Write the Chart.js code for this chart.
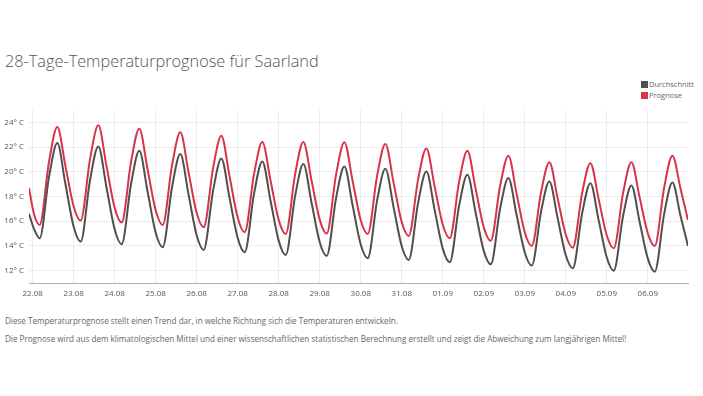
<!DOCTYPE html>
<html>
<head>
<meta charset="utf-8">
<script src="https://cdn.jsdelivr.net/npm/chart.js@4/dist/chart.umd.min.js"></script>
<style>
  body { margin: 0; background: #fff; font-family: "Open Sans", sans-serif; }
  #wrap { position: relative; width: 703px; height: 396px; }
  #title { position: absolute; left: 5px; top: 50px; font-size: 16.3px; font-weight: 300; color: #555; }
  #legend { position: absolute; left: 641px; top: 79px; font-size: 7.5px; color: #666; line-height: 11px; }
  #legend span.sw { display: inline-block; width: 7px; height: 7px; margin-right: 1px; vertical-align: -1px; }
  #box { position: absolute; left: 0; top: 100px; width: 703px; height: 205px; }
  .note { position: absolute; left: 5px; font-size: 8.1px; color: #666; }
</style>
</head>
<body>
<div id="wrap">
  <div id="title">28-Tage-Temperaturprognose für Saarland</div>
  <div id="legend"></div>
  <div id="box"><canvas id="chart"></canvas></div>
  <div class="note" style="top:315px">Diese Temperaturprognose stellt einen Trend dar, in welche Richtung sich die Temperaturen entwickeln.</div>
  <div class="note" style="top:333px">Die Prognose wird aus dem klimatologischen Mittel und einer wissenschaftlichen statistischen Berechnung erstellt und zeigt die Abweichung zum langjährigen Mittel!</div>
</div>
<script>
// day labels (one per gridline, day 0 = 22.08)
var days = ["22.08","23.08","24.08","25.08","26.08","27.08","28.08","29.08","30.08","31.08","01.09","02.09","03.09","04.09","05.09","06.09"];

// time in days since 22.08 00:00 (per day: min, rising, max, falling, midnight)
var times = [-0.09, 0.03,
  0.17, 0.4, 0.6, 0.8, 1.0,
  1.17, 1.4, 1.6, 1.8, 2.0,
  2.17, 2.4, 2.6, 2.8, 3.0,
  3.17, 3.4, 3.6, 3.8, 4.0,
  4.17, 4.4, 4.6, 4.8, 5.0,
  5.17, 5.4, 5.6, 5.8, 6.0,
  6.17, 6.4, 6.6, 6.8, 7.0,
  7.17, 7.4, 7.6, 7.8, 8.0,
  8.17, 8.4, 8.6, 8.8, 9.0,
  9.17, 9.4, 9.6, 9.8, 10.0,
  10.17, 10.4, 10.6, 10.8, 11.0,
  11.17, 11.4, 11.6, 11.8, 12.0,
  12.17, 12.4, 12.6, 12.8, 13.0,
  13.17, 13.4, 13.6, 13.8, 14.0,
  14.17, 14.4, 14.6, 14.8, 15.0,
  15.17, 15.4, 15.6, 15.8, 15.98];

var durchschnitt = [16.6, 15.4,
  14.62, 19.63, 22.32, 18.97, 15.55,
  14.35, 19.36, 22.05, 18.73, 15.33,
  14.14, 19.05, 21.70, 18.42, 15.06,
  13.89, 18.79, 21.43, 18.17, 14.84,
  13.68, 18.49, 21.08, 17.89, 14.63,
  13.49, 18.27, 20.84, 17.66, 14.41,
  13.27, 18.05, 20.62, 17.50, 14.30,
  13.19, 17.90, 20.43, 17.31, 14.11,
  13.00, 17.71, 20.24, 17.14, 13.97,
  12.86, 17.52, 20.03, 16.94, 13.78,
  12.68, 17.28, 19.76, 16.71, 13.60,
  12.51, 17.05, 19.49, 16.52, 13.47,
  12.41, 16.84, 19.22, 16.27, 13.24,
  12.19, 16.67, 19.08, 16.11, 13.06,
  12.00, 16.48, 18.89, 15.96, 12.97,
  11.92, 16.61, 19.14, 16.40, 14.00];

var prognose = [18.7, 16.6,
  15.70, 20.85, 23.62, 20.44, 17.19,
  16.05, 21.06, 23.76, 20.46, 17.08,
  15.90, 20.83, 23.49, 20.22, 16.87,
  15.70, 20.57, 23.19, 19.96, 16.66,
  15.51, 20.33, 22.92, 19.64, 16.28,
  15.11, 19.86, 22.41, 19.29, 16.09,
  14.97, 19.81, 22.41, 19.30, 16.11,
  15.00, 19.81, 22.40, 19.28, 16.08,
  14.97, 19.70, 22.24, 19.12, 15.92,
  14.81, 19.41, 21.89, 18.84, 15.71,
  14.62, 19.22, 21.70, 18.64, 15.50,
  14.41, 18.89, 21.30, 18.23, 15.09,
  14.00, 18.41, 20.78, 17.87, 14.90,
  13.86, 18.31, 20.70, 17.81, 14.84,
  13.81, 18.34, 20.78, 17.93, 15.02,
  14.00, 18.75, 21.30, 18.60, 16.10];

var yTicks = [12, 14, 16, 18, 20, 22, 24];

function pts(vals) {
  return times.map(function(t, i) { return { x: t, y: vals[i] }; });
}

var series = [
  { label: "Durchschnitt", data: pts(durchschnitt), color: "#4f4f4f" },
  { label: "Prognose", data: pts(prognose), color: "#d9334b" }
];

// html legend
var lg = document.getElementById("legend");
series.forEach(function(s) {
  lg.innerHTML += '<div><span class="sw" style="background:' + s.color + '"></span>' + s.label + '</div>';
});

new Chart(document.getElementById("chart"), {
  type: "line",
  data: {
    datasets: series.map(function(s) {
      return {
        label: s.label,
        data: s.data,
        borderColor: s.color,
        backgroundColor: s.color,
        borderWidth: 2,
        pointRadius: 0,
        fill: false,
        cubicInterpolationMode: "monotone"
      };
    })
  },
  options: {
    responsive: true,
    maintainAspectRatio: false,
    animation: false,
    layout: { padding: { top: 10, right: 15, left: 0, bottom: 0 } },
    plugins: { legend: { display: false }, tooltip: { enabled: false } },
    scales: {
      x: {
        type: "linear",
        min: -0.09,
        max: 15.98,
        afterBuildTicks: function(scale) {
          scale.ticks = days.map(function(d, i) { return { value: i }; });
        },
        afterFit: function(scale) { scale.height = 22; },
        grid: { color: "#ececec", drawTicks: false },
        border: { color: "#b0b0b0", width: 1 },
        ticks: {
          padding: 6,
          color: "#555",
          font: { family: "Open Sans", size: 8 },
          maxRotation: 0,
          callback: function(v) { return days[v]; }
        }
      },
      y: {
        min: 11,
        max: 25,
        afterBuildTicks: function(scale) {
          scale.ticks = yTicks.map(function(v) { return { value: v }; });
        },
        afterFit: function(scale) { scale.width = 29; },
        grid: { color: "#ececec", drawTicks: false },
        border: { display: false },
        ticks: {
          padding: 5,
          color: "#555",
          font: { family: "Open Sans", size: 8 },
          callback: function(v) { return v + "° C"; }
        }
      }
    }
  }
});
</script>
</body>
</html>
